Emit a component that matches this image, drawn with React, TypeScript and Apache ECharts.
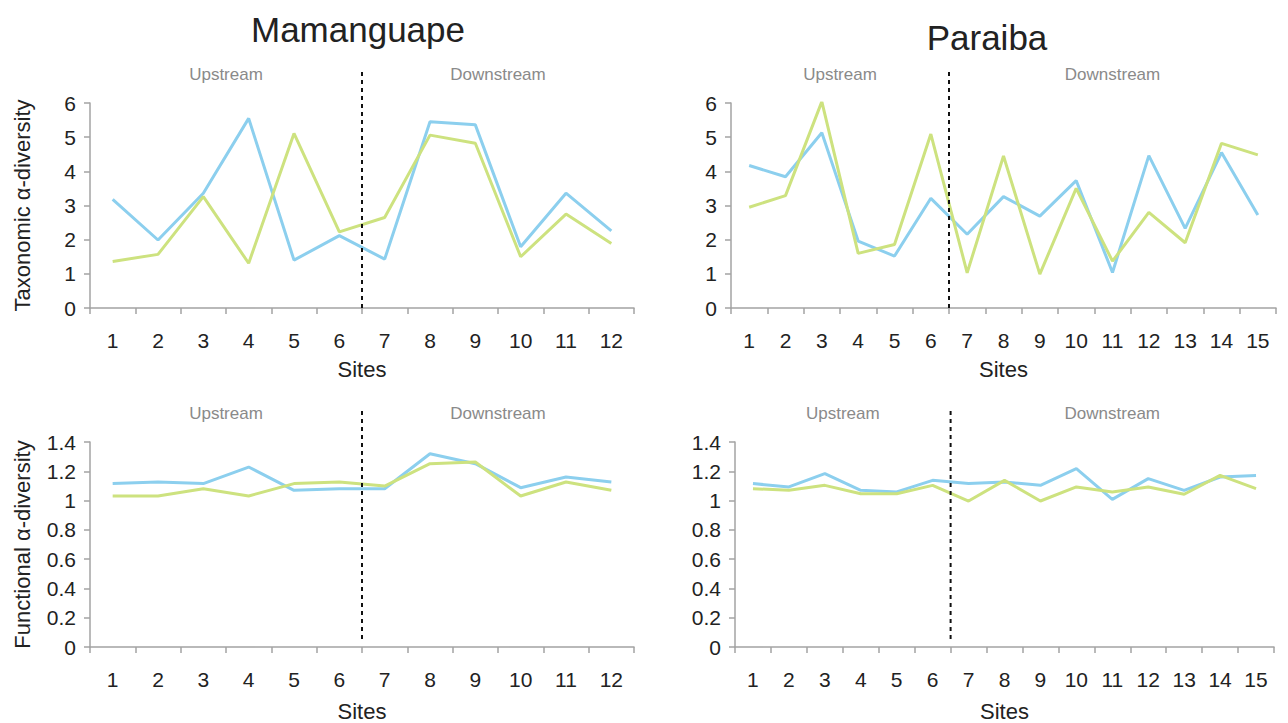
import React, { useEffect, useRef } from "react";
import * as echarts from "echarts";

const sites12 = ["1", "2", "3", "4", "5", "6", "7", "8", "9", "10", "11", "12"];
const sites15 = ["1", "2", "3", "4", "5", "6", "7", "8", "9", "10", "11", "12", "13", "14", "15"];

const mamTaxBlue = [3.18, 1.99, 3.36, 5.55, 1.4, 2.12, 1.43, 5.45, 5.36, 1.79, 3.36, 2.26];
const mamTaxGreen = [1.36, 1.57, 3.26, 1.31, 5.11, 2.23, 2.65, 5.06, 4.82, 1.5, 2.75, 1.89];
const parTaxBlue = [4.17, 3.84, 5.13, 1.96, 1.52, 3.21, 2.16, 3.26, 2.69, 3.73, 1.04, 4.46, 2.33, 4.55, 2.72];
const parTaxGreen = [2.95, 3.29, 6.04, 1.6, 1.86, 5.09, 1.03, 4.45, 0.99, 3.5, 1.37, 2.8, 1.91, 4.82, 4.48];
const mamFunBlue = [1.116, 1.127, 1.116, 1.229, 1.07, 1.081, 1.081, 1.32, 1.252, 1.088, 1.161, 1.127];
const mamFunGreen = [1.031, 1.031, 1.081, 1.031, 1.116, 1.127, 1.099, 1.252, 1.263, 1.031, 1.127, 1.07];
const parFunBlue = [1.116, 1.093, 1.184, 1.07, 1.059, 1.138, 1.116, 1.127, 1.104, 1.218, 1.008, 1.15, 1.07, 1.161, 1.172];
const parFunGreen = [1.081, 1.07, 1.104, 1.047, 1.047, 1.104, 0.997, 1.138, 0.997, 1.093, 1.059, 1.093, 1.043, 1.172, 1.081];

const titles = ["Mamanguape", "Paraiba"];
const regionLabels = ["Upstream", "Downstream"];
const yNames = ["Taxonomic α-diversity", "Functional α-diversity"];

const BLUE = "#8ccfee";
const GREEN = "#cde27f";
const FONT = "'Liberation Sans', Arial, sans-serif";
const AXIS = "#a3a3a3";

export default function App() {
  const ref = useRef<HTMLDivElement>(null);
  useEffect(() => {
    if (!ref.current) return;
    const chart = echarts.init(ref.current, undefined, { renderer: "svg" });
    const grids = [
      { left: 90, top: 103, width: 544, height: 205 },
      { left: 731, top: 103, width: 545, height: 205 },
      { left: 90, top: 442, width: 544, height: 205 },
      { left: 735, top: 442, width: 539, height: 205 },
    ];
    const cats = [sites12, sites15, sites12, sites15];
    const xAxes = grids.map((_, i) => ({
      type: "category",
      gridIndex: i,
      data: cats[i],
      boundaryGap: true,
      axisLine: { lineStyle: { color: AXIS, width: 1.5 } },
      axisTick: { show: true, length: 6, lineStyle: { color: AXIS, width: 1.5 } },
      axisLabel: { color: "#222", fontSize: 21, fontFamily: FONT, margin: 22, interval: 0 },
      name: "Sites",
      nameLocation: "middle",
      nameGap: i < 2 ? 50 : 53,
      nameTextStyle: { color: "#222", fontSize: 22, fontFamily: FONT },
      splitLine: { show: false },
    }));
    const yAxes = grids.map((_, i) => ({
      type: "value",
      gridIndex: i,
      min: 0,
      max: i < 2 ? 6 : 1.4,
      interval: i < 2 ? 1 : 0.2,
      axisLine: { show: true, lineStyle: { color: AXIS, width: 1.5 } },
      axisTick: { show: true, length: 6, lineStyle: { color: AXIS, width: 1.5 } },
      axisLabel: { color: "#222", fontSize: 21, fontFamily: FONT, margin: 14 },
      splitLine: { show: false },
      name: i % 2 === 0 ? yNames[i / 2] : "",
      nameLocation: "middle",
      nameGap: 57,
      nameTextStyle: { color: "#222", fontSize: 22, fontFamily: FONT },
    }));
    const pairs = [
      [mamTaxBlue, mamTaxGreen],
      [parTaxBlue, parTaxGreen],
      [mamFunBlue, mamFunGreen],
      [parFunBlue, parFunGreen],
    ];
    const series: any[] = [];
    pairs.forEach((p, i) => {
      series.push({
        type: "line", name: "Blue", xAxisIndex: i, yAxisIndex: i, data: p[0],
        symbol: "none", lineStyle: { color: BLUE, width: 3 }, itemStyle: { color: BLUE },
      });
      series.push({
        type: "line", name: "Green", xAxisIndex: i, yAxisIndex: i, data: p[1],
        symbol: "none", lineStyle: { color: GREEN, width: 3 }, itemStyle: { color: GREEN },
      });
    });
    chart.setOption({
      animation: false,
      grid: grids,
      xAxis: xAxes,
      yAxis: yAxes,
      series,
    });

    const graphics: any[] = [];
    grids.forEach((g, i) => {
      const xa = chart.convertToPixel({ xAxisIndex: i } as any, "6") as unknown as number;
      const xb = chart.convertToPixel({ xAxisIndex: i } as any, "7") as unknown as number;
      const xd = (xa + xb) / 2;
      const yTop = g.top - 31;
      const yBot = i < 2 ? g.top + g.height : g.top + g.height - 7;
      graphics.push({
        type: "line",
        shape: { x1: xd, y1: yTop, x2: xd, y2: yBot },
        style: { stroke: "#111", lineWidth: 2, lineDash: [4, 4] },
        z: 10,
      });
      const labY = i < 2 ? 74 : 413;
      graphics.push({
        type: "text", x: (g.left + xd) / 2, y: labY,
        style: { text: regionLabels[0], fill: "#8a8a8a", fontSize: 17, fontFamily: FONT, align: "center", verticalAlign: "middle" },
      });
      graphics.push({
        type: "text", x: (xd + g.left + g.width) / 2, y: labY,
        style: { text: regionLabels[1], fill: "#8a8a8a", fontSize: 17, fontFamily: FONT, align: "center", verticalAlign: "middle" },
      });
    });
    graphics.push({
      type: "text", x: 358, y: 29,
      style: { text: titles[0], fill: "#222", fontSize: 35, fontFamily: FONT, align: "center", verticalAlign: "middle" },
    });
    graphics.push({
      type: "text", x: 987, y: 37,
      style: { text: titles[1], fill: "#222", fontSize: 35, fontFamily: FONT, align: "center", verticalAlign: "middle" },
    });
    chart.setOption({ graphic: graphics });

    return () => chart.dispose();
  }, []);
  return (
    <div
      ref={ref}
      style={{ position: "fixed", left: 0, top: 0, width: 1288, height: 723, background: "#fff" }}
    />
  );
}
